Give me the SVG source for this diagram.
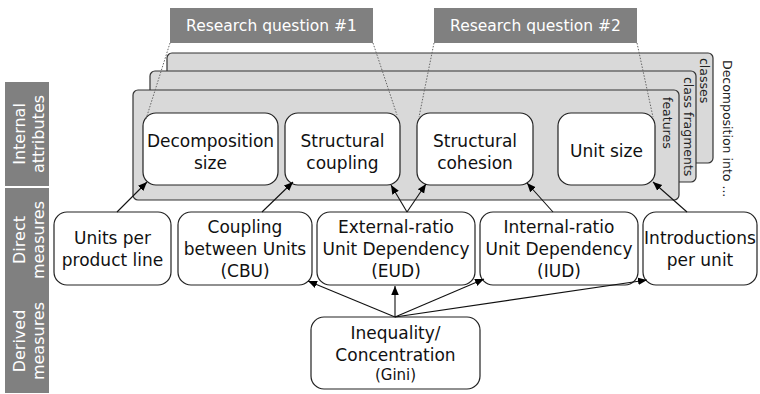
<svg xmlns="http://www.w3.org/2000/svg" width="760" height="394" viewBox="0 0 760 394">
<defs>
<marker id="ah" viewBox="0 0 10 10" refX="10" refY="5" markerWidth="9" markerHeight="9" markerUnits="userSpaceOnUse" orient="auto">
<path d="M0,0.8 L10,5 L0,9.2 z" fill="#000"/>
</marker>
<style>
text{font-family:"DejaVu Sans","Liberation Sans",sans-serif;}
.band{fill:#808080;}
.bandt{fill:#fff;font-size:16px;text-anchor:middle;}
.layer{fill:#d9d9d9;stroke:#333;stroke-width:1.2;}
.layt{fill:#222;font-size:12.5px;}
.node{fill:#fff;stroke:#222;stroke-width:1.2;}
.nt{fill:#111;font-size:17px;text-anchor:middle;}
.rq{fill:#808080;}
.rqt{fill:#fff;font-size:15.5px;text-anchor:middle;}
.dot{stroke:#666;stroke-width:1;stroke-dasharray:1.5,1.5;fill:none;}
.edge{stroke:#111;stroke-width:1.1;fill:none;marker-end:url(#ah);}
</style>
</defs>

<g id="bands">
<rect class="band" x="5" y="82" width="44" height="104"/>
<text class="bandt" transform="translate(27,134) rotate(-90)"><tspan x="0" y="-2">Internal</tspan><tspan x="0" y="17">attributes</tspan></text>
<rect class="band" x="5" y="188" width="44" height="103"/>
<text class="bandt" transform="translate(27,240) rotate(-90)"><tspan x="0" y="-2">Direct</tspan><tspan x="0" y="17">measures</tspan></text>
<rect class="band" x="5" y="291" width="44" height="102"/>
<text class="bandt" transform="translate(27,341) rotate(-90)"><tspan x="0" y="-2">Derived</tspan><tspan x="0" y="17">measures</tspan></text>
</g>

<g id="layers">
<rect class="layer" x="167" y="53" width="546" height="110" rx="5"/>
<text class="layt" transform="translate(700,58) rotate(90)">classes</text>
<rect class="layer" x="150" y="71" width="546" height="111" rx="5"/>
<text class="layt" transform="translate(683.5,77) rotate(90)">class fragments</text>
<rect class="layer" x="133" y="90" width="546" height="110" rx="5"/>
<text class="layt" transform="translate(663,97) rotate(90)">features</text>
<text class="layt" transform="translate(723,60) rotate(90)">Decomposition into ...</text>
</g>

<g id="rq1">
<rect class="rq" x="170" y="8" width="203" height="35"/>
<text class="rqt" x="271.5" y="31">Research question #1</text>
</g>
<g id="rq2">
<rect class="rq" x="434" y="8" width="203" height="35"/>
<text class="rqt" x="535.5" y="31">Research question #2</text>
</g>

<g id="decomposition-size">
<rect class="node" x="143" y="113" width="135" height="72" rx="13"/>
<text class="nt"><tspan x="210.5" y="146.5">Decomposition</tspan><tspan x="210.5" y="168.5">size</tspan></text>
</g>
<g id="structural-coupling">
<rect class="node" x="285" y="113" width="115" height="72" rx="13"/>
<text class="nt"><tspan x="342.5" y="146.5">Structural</tspan><tspan x="342.5" y="168.5">coupling</tspan></text>
</g>
<g id="structural-cohesion">
<rect class="node" x="417" y="113" width="116" height="72" rx="13"/>
<text class="nt"><tspan x="475" y="146.5">Structural</tspan><tspan x="475" y="168.5">cohesion</tspan></text>
</g>
<g id="unit-size">
<rect class="node" x="558" y="113" width="97" height="72" rx="13"/>
<text class="nt" x="606.5" y="157">Unit size</text>
</g>

<g id="units-per-product-line">
<rect class="node" x="54" y="212" width="117" height="73" rx="13"/>
<text class="nt"><tspan x="112.5" y="244">Units per</tspan><tspan x="112.5" y="266">product line</tspan></text>
</g>
<g id="cbu">
<rect class="node" x="178" y="212" width="134" height="73" rx="13"/>
<text class="nt"><tspan x="245" y="232.5">Coupling</tspan><tspan x="245" y="254.5">between Units</tspan><tspan x="245" y="276.5">(CBU)</tspan></text>
</g>
<g id="eud">
<rect class="node" x="317" y="212" width="158" height="73" rx="13"/>
<text class="nt"><tspan x="396" y="232.5">External-ratio</tspan><tspan x="396" y="254.5">Unit Dependency</tspan><tspan x="396" y="276.5">(EUD)</tspan></text>
</g>
<g id="iud">
<rect class="node" x="480" y="212" width="158" height="73" rx="13"/>
<text class="nt"><tspan x="559" y="232.5">Internal-ratio</tspan><tspan x="559" y="254.5">Unit Dependency</tspan><tspan x="559" y="276.5">(IUD)</tspan></text>
</g>
<g id="introductions-per-unit">
<rect class="node" x="643" y="212" width="114" height="73" rx="13"/>
<text class="nt"><tspan x="700" y="244">Introductions</tspan><tspan x="700" y="266">per unit</tspan></text>
</g>

<g id="gini">
<rect class="node" x="311" y="317" width="169" height="72" rx="13"/>
<text class="nt"><tspan x="395.5" y="339">Inequality/</tspan><tspan x="395.5" y="361">Concentration</tspan><tspan x="395.5" y="380" style="font-size:15px">(Gini)</tspan></text>
</g>

<g id="connectors">
<line class="dot" x1="170" y1="43" x2="146" y2="119"/>
<line class="dot" x1="373" y1="43" x2="397" y2="115"/>
<line class="dot" x1="434" y1="43" x2="419" y2="117"/>
<line class="dot" x1="637" y1="43" x2="653" y2="117"/>
<line class="edge" x1="117" y1="212" x2="147" y2="182"/>
<line class="edge" x1="262" y1="212" x2="293" y2="182"/>
<line class="edge" x1="407" y1="212" x2="391" y2="185"/>
<line class="edge" x1="407" y1="212" x2="426" y2="184"/>
<line class="edge" x1="553" y1="212" x2="527" y2="183"/>
<line class="edge" x1="687" y1="212" x2="653" y2="182"/>
<line class="edge" x1="395" y1="317" x2="308" y2="281"/>
<line class="edge" x1="395" y1="317" x2="395" y2="286"/>
<line class="edge" x1="395" y1="317" x2="484" y2="279"/>
<line class="edge" x1="395" y1="317" x2="647" y2="280"/>
</g>
</svg>
